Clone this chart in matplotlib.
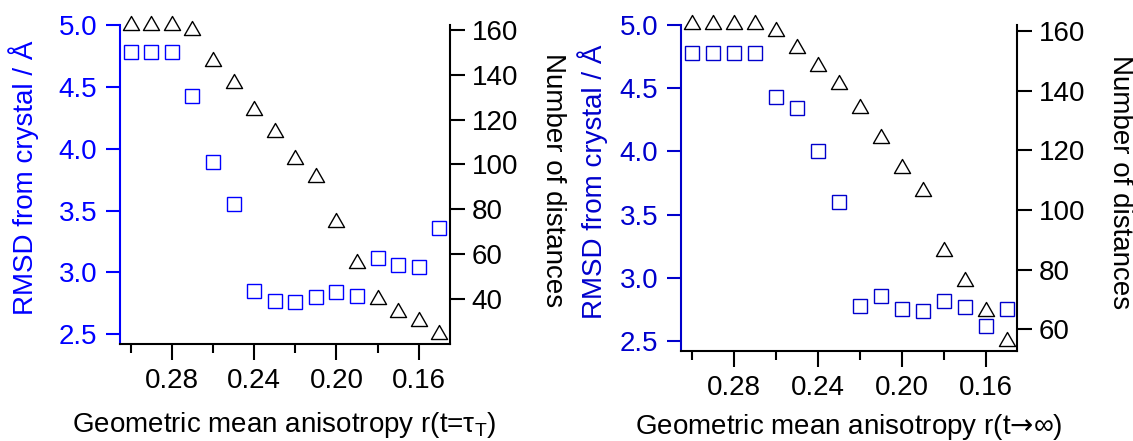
import matplotlib
matplotlib.use("Agg")
import matplotlib.pyplot as plt
from matplotlib.path import Path

plt.rcParams['font.family'] = ['Liberation Sans', 'DejaVu Sans']
plt.rcParams['mathtext.fontset'] = 'custom'
plt.rcParams['mathtext.rm'] = 'Liberation Sans'
plt.rcParams['mathtext.it'] = 'Liberation Sans:italic'

# ---------------- data ----------------
anisotropy = [0.30, 0.29, 0.28, 0.27, 0.26, 0.25, 0.24, 0.23,
              0.22, 0.21, 0.20, 0.19, 0.18, 0.17, 0.16, 0.15]

rmsd_tau = [4.78, 4.78, 4.78, 4.43, 3.89, 3.55, 2.85, 2.77,
            2.76, 2.80, 2.84, 2.81, 3.12, 3.06, 3.04, 3.36]
ndist_tau = [163.2, 163.2, 163.2, 161.0, 147.1, 137.2, 125.0, 115.2,
             103.1, 95.1, 75.1, 57.1, 41.1, 35.1, 31.2, 25.1]

rmsd_inf = [4.78, 4.78, 4.78, 4.78, 4.43, 4.34, 4.00, 3.60,
            2.78, 2.86, 2.75, 2.74, 2.82, 2.77, 2.62, 2.75]
ndist_inf = [162.9, 162.9, 162.9, 162.9, 160.8, 154.8, 148.9, 142.8,
             134.9, 124.9, 114.8, 106.9, 86.8, 76.9, 66.9, 56.8]

x_major_ticks = [0.28, 0.24, 0.20, 0.16]
x_major_labels = ["0.28", "0.24", "0.20", "0.16"]
x_minor_ticks = [0.30, 0.26, 0.22, 0.18]
rmsd_ticks = [2.5, 3.0, 3.5, 4.0, 4.5, 5.0]
rmsd_labels = ["2.5", "3.0", "3.5", "4.0", "4.5", "5.0"]
ndist_ticks_tau = [40, 60, 80, 100, 120, 140, 160]
ndist_ticks_inf = [60, 80, 100, 120, 140, 160]

ylabel_left = "RMSD from crystal / Å"
ylabel_right = "Number of distances"
xlabel_tau = "Geometric mean anisotropy r(t=τ$_{\\mathrm{T}}$)"
xlabel_inf = "Geometric mean anisotropy r(t$→$∞)"

# ---------------- layout ----------------
W, H = 1133, 441
fig = plt.figure(figsize=(W / 100, H / 100), dpi=100)

FS = 20
TFS = 20
tri_marker = Path([(0, 0.87), (-1, -0.87), (1, -0.87), (0, 0.87)], closed=True)


def fpt(px, py):
    return px / W, 1 - py / H


panels = [
    dict(rect=(120, 25, 450, 344.3), ylim1=(2.419, 5.0), ylim2=(19.84, 162.15),
         blue="#0000ff", rmsd=rmsd_tau, nd=ndist_tau, nticks=ndist_ticks_tau,
         xlabel=xlabel_tau, mathfam="custom", xl=(284.5, 432.0), yl1=(23.5, 178.3),
         yl2=(552.7, 180.0), xlim=(0.3052, 0.1448)),
    dict(rect=(680.7, 25, 1017.3, 351), ylim1=(2.421, 5.0), ylim2=(52.73, 162.0),
         blue="#0000cc", rmsd=rmsd_inf, nd=ndist_inf, nticks=ndist_ticks_inf,
         xlabel=xlabel_inf, mathfam="dejavusans", xl=(849, 433.5), yl1=(592.5, 181.7),
         yl2=(1120, 181.7), xlim=(0.3052, 0.145)),
]

for p in panels:
    l, t, r, b = p["rect"]
    ax = fig.add_axes([l / W, 1 - b / H, (r - l) / W, (b - t) / H])
    ax2 = ax.twinx()
    ax.patch.set_visible(False)

    ax.plot(anisotropy, p["rmsd"], linestyle="none", marker="s", ms=10.2,
            mfc="none", mec=p["blue"], mew=1.0, clip_on=False, zorder=3)
    ax2.plot(anisotropy, p["nd"], linestyle="none", marker=tri_marker, ms=11.6,
             mfc="none", mec="black", mew=1.0, clip_on=False, zorder=3)

    ax.set_xlim(*p["xlim"])
    ax.set_ylim(*p["ylim1"])
    ax2.set_ylim(*p["ylim2"])

    ax.set_xticks(x_major_ticks)
    ax.set_xticklabels(x_major_labels)
    ax.set_xticks(x_minor_ticks, minor=True)
    ax.set_yticks(rmsd_ticks)
    ax.set_yticklabels(rmsd_labels)
    ax2.set_yticks(p["nticks"])
    ax2.set_yticklabels([str(v) for v in p["nticks"]])

    for s in ("top", "right"):
        ax.spines[s].set_visible(False)
    for s in ("top", "left", "bottom"):
        ax2.spines[s].set_visible(False)
    ax.spines["left"].set_color(p["blue"])
    ax.spines["left"].set_linewidth(1.5)
    ax.spines["bottom"].set_linewidth(1.5)
    ax2.spines["right"].set_linewidth(1.5)

    ax.tick_params(axis="y", direction="out", length=10.3, width=1.5, pad=6.0,
                   labelsize=TFS, color=p["blue"], labelcolor=p["blue"])
    ax.tick_params(axis="x", which="major", direction="out", length=11.3, width=1.5,
                   pad=6, labelsize=TFS)
    ax.tick_params(axis="x", which="minor", direction="out", length=6.5, width=1.5)
    ax2.tick_params(axis="y", direction="out", length=10.5, width=1.5, pad=5.0,
                    labelsize=TFS)

    ax.set_xlabel(p["xlabel"], fontsize=FS, va="baseline", ha="center",
                  math_fontfamily=p["mathfam"])
    ax.xaxis.set_label_coords(*fpt(*p["xl"]), transform=fig.transFigure)
    ax.set_ylabel(ylabel_left, fontsize=FS, color=p["blue"], va="center", ha="center")
    ax.yaxis.set_label_coords(*fpt(*p["yl1"]), transform=fig.transFigure)
    ax2.set_ylabel(ylabel_right, fontsize=FS, rotation=270, va="center", ha="center")
    ax2.yaxis.set_label_coords(*fpt(*p["yl2"]), transform=fig.transFigure)

fig.savefig("out.png", dpi=100)
